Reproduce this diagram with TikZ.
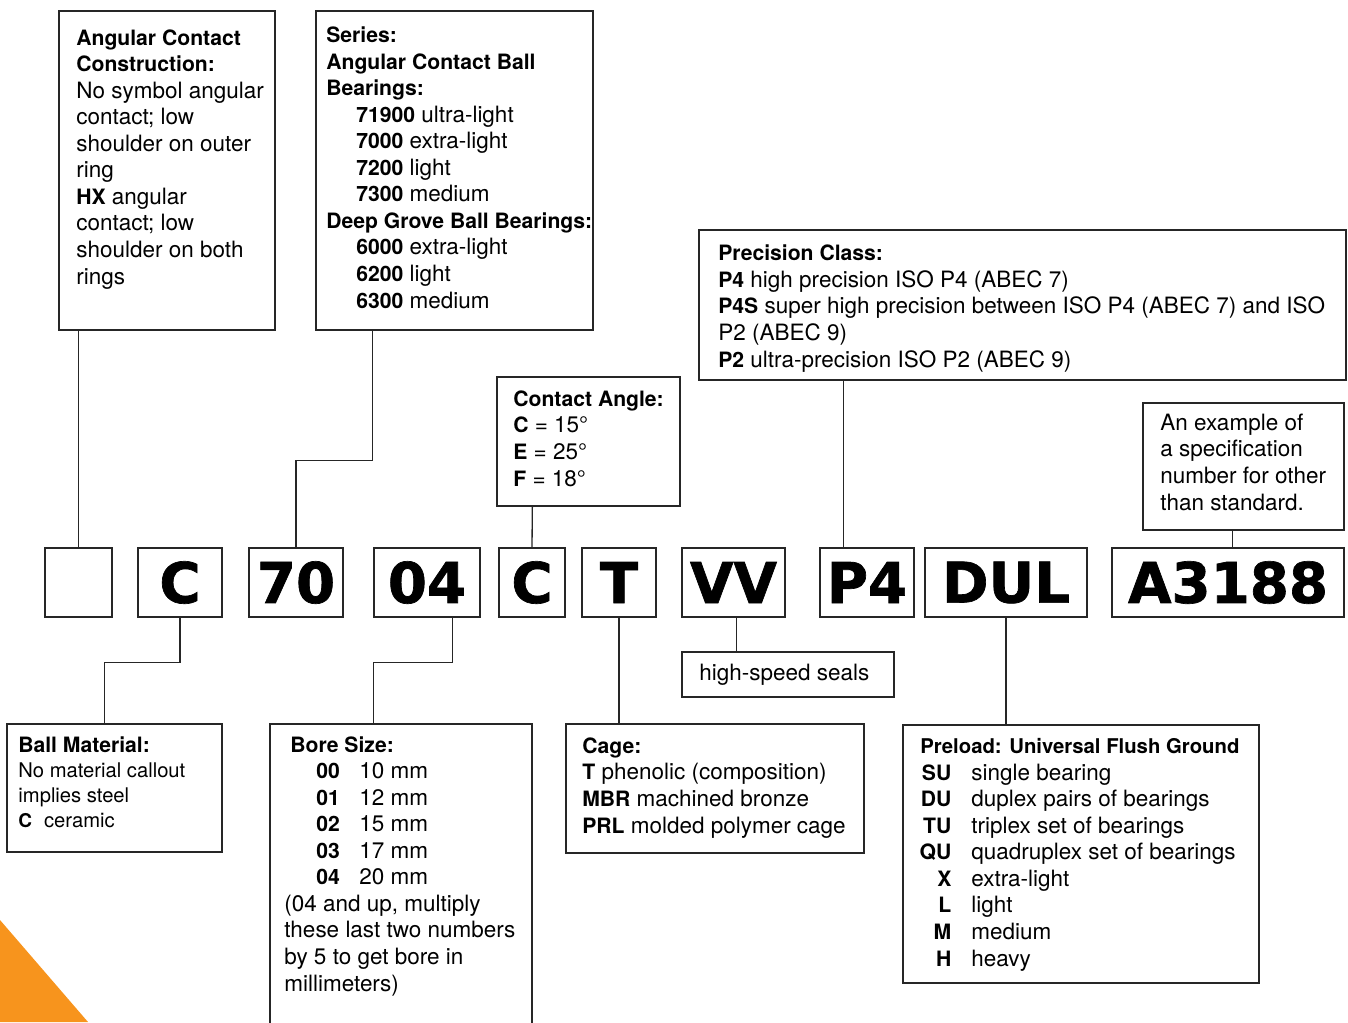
\documentclass[tikz,border=0pt]{standalone}
\usepackage{fontspec}
\setmainfont{TeX Gyre Heros}[BoldFeatures={Scale=0.94}]
\newfontfamily\codefont{DejaVu Sans}[BoldFeatures={FakeBold=1.2}]
\usepackage{xcolor}
\usepackage{tikz}
\usetikzlibrary{calc,fit,positioning}
\definecolor{tabOrange}{RGB}{247,148,29}
\newcommand{\precode}[2]{\makebox[0.62cm][r]{\textbf{#1}}\hspace{0.4cm}#2}
\newcommand{\borecode}[2]{\hspace*{0.64cm}\makebox[0.86cm][l]{\textbf{#1}}#2}

\begin{document}
\begin{tikzpicture}[x=0.02cm,y=-0.02cm,
  box/.style={draw=black!85,line width=0.75pt,inner sep=0pt},
  codebox/.style={box,minimum height=1.38cm,font=\codefont\bfseries\fontsize{32pt}{32pt}\selectfont},
  txt/.style={inner sep=0pt,align=left,anchor=base west,font=\fontsize{12.8pt}{15.1pt}\selectfont},
  link/.style={draw=black!85,line width=0.75pt}]
  \useasboundingbox (0,0) rectangle (1348,1022);
  \fill[tabOrange] (0,920) -- (88,1022) -- (0,1022) -- cycle;

  \node[codebox,minimum width=1.34cm] (cblank) at (78.5,582.5) {};
  \node[codebox,minimum width=1.68cm] (cball) at (180,582.5) {C};
  \node[codebox,minimum width=1.88cm] (cseries) at (296,582.5) {70};
  \node[codebox,minimum width=2.12cm] (cbore) at (427,582.5) {04};
  \node[codebox,minimum width=1.32cm] (cangle) at (532,582.5) {C};
  \node[codebox,minimum width=1.48cm] (ccage) at (619,582.5) {T};
  \node[codebox,minimum width=2.06cm] (cseal) at (733.5,582.5) {VV};
  \node[codebox,minimum width=1.88cm] (cprec) at (867,582.5) {P4};
  \node[codebox,minimum width=3.24cm] (cpre) at (1006,582.5) {DUL};
  \node[codebox,minimum width=4.64cm] (cspec) at (1228,582.5) {A3188};

  \node[box,fit={(59,11) (275,330)}] (constr) {};
  \node[txt] (constrtext) at (76,284) {\textbf{Angular Contact}\\\textbf{Construction:}\\No symbol angular\\contact; low\\shoulder on outer\\ring\\\textbf{HX} angular\\contact; low\\shoulder on both\\rings};
  \node[box,fit={(316,11) (593,330)}] (series) {};
  \node[txt] (seriestext) at (326,308) {\textbf{Series:}\\\textbf{Angular Contact Ball}\\\textbf{Bearings:}\\
    \hspace*{0.6cm}\textbf{71900} ultra-light\\\hspace*{0.6cm}\textbf{7000} extra-light\\\hspace*{0.6cm}\textbf{7200} light\\\hspace*{0.6cm}\textbf{7300} medium\\
    \textbf{Deep Grove Ball Bearings:}\\\hspace*{0.6cm}\textbf{6000} extra-light\\\hspace*{0.6cm}\textbf{6200} light\\\hspace*{0.6cm}\textbf{6300} medium};
  \node[box,fit={(497,377) (680,506)}] (angle) {};
  \node[txt] (angletext) at (513,486) {\textbf{Contact Angle:}\\\textbf{C} = 15°\\\textbf{E} = 25°\\\textbf{F} = 18°};
  \node[box,fit={(699,230) (1346,380)}] (prec) {};
  \node[txt] (prectext) at (718,367) {\textbf{Precision Class:}\\\textbf{P4} high precision ISO P4 (ABEC 7)\\
    \textbf{P4S} super high precision between ISO P4 (ABEC 7) and ISO\\P2 (ABEC 9)\\\textbf{P2} ultra-precision ISO P2 (ABEC 9)};
  \node[box,fit={(1143,403) (1344,530)}] (spec) {};
  \node[txt] (spectext) at (1160,510) {An example of\\a specification\\number for other\\than standard.};

  \node[box,fit={(7,724) (222,852)}] (ball) {};
  \node[txt,font=\fontsize{11.5pt}{14.2pt}\selectfont] (balltext) at (18,827) {{\fontsize{12.8pt}{14.2pt}\selectfont\textbf{Ball Material:}}\\No material callout\\implies steel\\\textbf{C}\hspace{0.24cm}ceramic};
  \node[box,fit={(270,724) (532,1040)}] (bore) {};
  \node[txt] (boretext) at (284,991) {\hspace*{0.12cm}\textbf{Bore Size:}\\\borecode{00}{10 mm}\\\borecode{01}{12 mm}\\\borecode{02}{15 mm}\\\borecode{03}{17 mm}\\\borecode{04}{20 mm}\\
    (04 and up, multiply\\these last two numbers\\by 5 to get bore in\\millimeters)};
  \node[box,fit={(566,724) (864,853)}] (cage) {};
  \node[txt] (cagetext) at (582,833) {\textbf{Cage:}\\\textbf{T} phenolic (composition)\\\textbf{MBR} machined bronze\\\textbf{PRL} molded polymer cage};
  \node[box,fit={(682,652) (894,697)}] (seal) {};
  \node[txt] (sealtext) at (699,680) {high-speed seals};
  \node[box,fit={(903,725) (1259,983)}] (pre) {};
  \node[txt] (pretext) at (920,966) {{\fontsize{12.3pt}{15.1pt}\selectfont\textbf{Preload: Universal Flush Ground}}\\\precode{SU}{single bearing}\\\precode{DU}{duplex pairs of bearings}\\
    \precode{TU}{triplex set of bearings}\\\precode{QU}{quadruplex set of bearings}\\\precode{X}{extra-light}\\\precode{L}{light}\\\precode{M}{medium}\\\precode{H}{heavy}};

  \draw[link] (cblank.north) -- (cblank.north |- constr.south);
  \draw[link] ($(series.south west)+(57,0)$) -- ++(0,130) -| (cseries.north);
  \draw[link] ($(angle.south west)+(36,0)$) -- (cangle.north);
  \coordinate (precfoot) at ($(prec.south west)+(145,0)$);
  \draw[link] (precfoot) -- (precfoot |- cprec.north);
  \coordinate (specfoot) at ($(spec.south west)+(90,0)$);
  \draw[link] (specfoot) -- (specfoot |- cspec.north);
  \draw[link] (cball.south) -- ++(0,45) -| ($(ball.north west)+(98,0)$);
  \draw[link] ($(cbore.south east)+(-28,0)$) -- ++(0,45) -| ($(bore.north west)+(104,0)$);
  \draw[link] (ccage.south) -- (ccage.south |- cage.north);
  \coordinate (sealfoot) at ($(seal.north west)+(55,0)$);
  \draw[link] (sealfoot) -- (sealfoot |- cseal.south);
  \draw[link] (cpre.south) -- (cpre.south |- pre.north);
\end{tikzpicture}
\end{document}
